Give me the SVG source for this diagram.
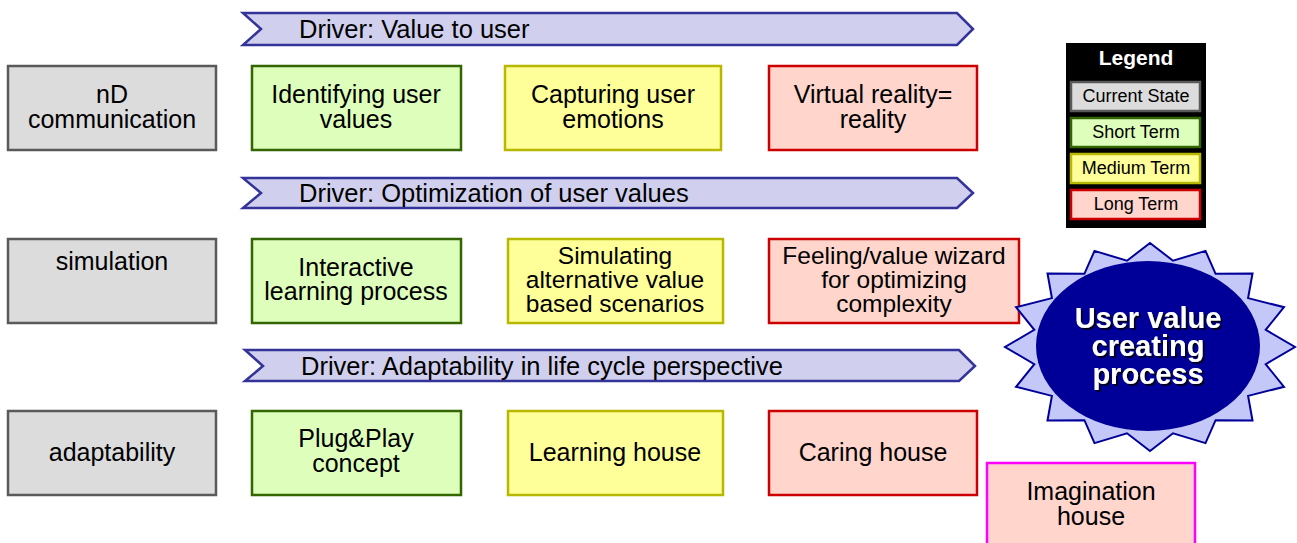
<svg xmlns="http://www.w3.org/2000/svg" width="1297" height="543" viewBox="0 0 1297 543">
<defs>
<filter id="shadow" x="-10%" y="-10%" width="130%" height="140%">
<feDropShadow dx="2" dy="2" stdDeviation="0.6" flood-color="#000022" flood-opacity="1"/>
</filter>
</defs>
<style>
text{font-family:"Liberation Sans",Arial,sans-serif;fill:#000}
.t{font-size:25px;text-anchor:middle}
.t3{font-size:24.5px;text-anchor:middle}
.d{font-size:25.5px}
.l{font-size:18px;text-anchor:middle}
.box{stroke-width:2.5}
.cur{fill:#dcdcdc;stroke:#5a5a5a}
.sh{fill:#ddffbb;stroke:#336600}
.me{fill:#ffff99;stroke:#b8b800}
.lo{fill:#ffd5cc;stroke:#cc0000}
.chev{fill:#d0d0ee;stroke:#333399;stroke-width:2.5}
.st{font-size:29px;font-weight:bold;text-anchor:middle;fill:#fff}
</style>
<rect width="1297" height="543" fill="#fff"/>
<g id="drivers">
<g id="driver1"><path class="chev" d="M243,13 L957,13 L973,29 L957,45 L243,45 L261,29 Z"/><text class="d" x="299" y="38">Driver: Value to user</text></g>
<g id="driver2"><path class="chev" d="M243,178 L957,178 L973,193 L957,208 L243,208 L261,193 Z"/><text class="d" x="299" y="202">Driver: Optimization of user values</text></g>
<g id="driver3"><path class="chev" d="M245,350 L959,350 L975,366 L959,381 L245,381 L263,366 Z"/><text class="d" x="301" y="375">Driver: Adaptability in life cycle perspective</text></g>
</g>
<g id="row1">
<g id="nd"><rect class="box cur" x="8" y="66" width="208" height="84"/><text class="t" x="112" y="103">nD</text><text class="t" x="112" y="128">communication</text></g>
<g id="identifying"><rect class="box sh" x="252" y="66" width="209" height="84"/><text class="t" x="356" y="103">Identifying user</text><text class="t" x="356" y="128">values</text></g>
<g id="capturing"><rect class="box me" x="505" y="66" width="216" height="84"/><text class="t" x="613" y="103">Capturing user</text><text class="t" x="613" y="128">emotions</text></g>
<g id="virtual"><rect class="box lo" x="769" y="66" width="208" height="84"/><text class="t" x="873" y="103">Virtual reality=</text><text class="t" x="873" y="128">reality</text></g>
</g>
<g id="row2">
<g id="simulation"><rect class="box cur" x="8" y="239" width="208" height="84"/><text class="t" x="112" y="270">simulation</text></g>
<g id="interactive"><rect class="box sh" x="252" y="239" width="209" height="84"/><text class="t" x="356" y="276">Interactive</text><text class="t" x="356" y="300">learning process</text></g>
<g id="simulating"><rect class="box me" x="508" y="239" width="215" height="84"/><text class="t3" x="615" y="264">Simulating</text><text class="t3" x="615" y="288">alternative value</text><text class="t3" x="615" y="312">based scenarios</text></g>
<g id="feeling"><rect class="box lo" x="769" y="239" width="250" height="84"/><text class="t3" x="894" y="264">Feeling/value wizard</text><text class="t3" x="894" y="288">for optimizing</text><text class="t3" x="894" y="312">complexity</text></g>
</g>
<g id="row3">
<g id="adaptability"><rect class="box cur" x="8" y="411" width="208" height="84"/><text class="t" x="112" y="461">adaptability</text></g>
<g id="plugplay"><rect class="box sh" x="252" y="411" width="209" height="84"/><text class="t" x="356" y="447">Plug&amp;Play</text><text class="t" x="356" y="472">concept</text></g>
<g id="learning"><rect class="box me" x="508" y="411" width="215" height="84"/><text class="t" x="615" y="461">Learning house</text></g>
<g id="caring"><rect class="box lo" x="769" y="411" width="208" height="84"/><text class="t" x="873" y="461">Caring house</text></g>
<g id="imagination"><rect class="box" fill="#ffd5cc" stroke="#ff00ff" x="987" y="463" width="208" height="90"/><text class="t" x="1091" y="500">Imagination</text><text class="t" x="1091" y="525">house</text></g>
</g>
<g id="legend">
<rect x="1066" y="43" width="140" height="185" fill="#000"/>
<text x="1136" y="65" font-size="21" font-weight="bold" text-anchor="middle" style="fill:#fff">Legend</text>
<rect class="box cur" x="1071" y="82" width="129" height="29"/><text class="l" x="1136" y="102">Current State</text>
<rect class="box sh" x="1071" y="118" width="129" height="29"/><text class="l" x="1136" y="138">Short Term</text>
<rect class="box me" x="1071" y="154" width="129" height="29"/><text class="l" x="1136" y="174">Medium Term</text>
<rect class="box lo" x="1071" y="190" width="129" height="29"/><text class="l" x="1136" y="210">Long Term</text>
</g>
<g id="process">
<polygon fill="#c4c8f8" stroke="#000099" stroke-width="2" points="1150,243 1173,260.7 1205.5,250.9 1215.6,273.8 1252.5,273.5 1248.1,298.1 1284,307.2 1265.7,329.8 1295,347 1265.7,364.2 1284,386.8 1248.1,395.9 1252.5,420.5 1215.6,420.2 1205.5,443.1 1173,433.3 1150,451 1127,433.3 1094.5,443.1 1084.4,420.2 1047.5,420.5 1051.9,395.9 1016,386.8 1034.3,364.2 1005,347 1034.3,329.8 1016,307.2 1051.9,298.1 1047.5,273.5 1084.4,273.8 1094.5,250.9 1127,260.7"/>
<ellipse cx="1148" cy="346" rx="112" ry="85" fill="#000099"/>
<g filter="url(#shadow)">
<text class="st" x="1148" y="328">User value</text>
<text class="st" x="1148" y="356">creating</text>
<text class="st" x="1148" y="384">process</text>
</g>
</g>
<g id="connectors"/>
</svg>
